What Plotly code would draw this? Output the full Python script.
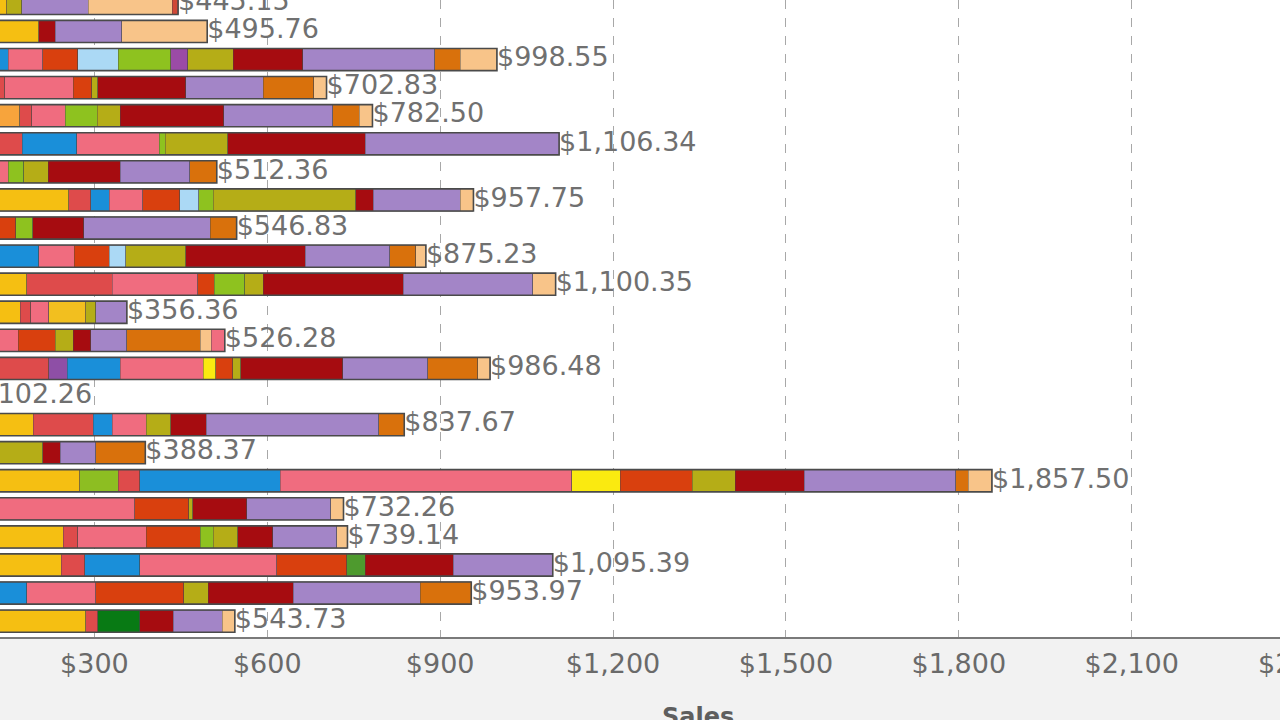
import plotly.graph_objects as go

# one entry per bar, top to bottom
rows = ["C%02d" % (i + 1) for i in range(23)]
totals = [445.15, 495.76, 998.55, 702.83, 782.50, 1106.34, 512.36, 957.75, 546.83, 875.23,
          1100.35, 356.36, 526.28, 986.48, 102.26, 837.67, 388.37, 1857.50, 732.26, 739.14,
          1095.39, 953.97, 543.73]

# stacked segments (sales by product line), same row order
gold = [147.8, 203.5, 0, 0, 0, 0, 0, 255.2, 0, 0, 182.2, 171.6, 0, 0, 102.26, 194.3, 0, 275.0, 0, 246.0, 242.4, 0, 284.9]
tangerine = [0, 0, 0, 0, 170.2, 0, 0, 0, 0, 0, 0, 0, 0, 0, 0, 0, 0, 0, 0, 0, 0, 0, 0]
green1 = [0, 0, 0, 0, 0, 0, 0, 0, 0, 0, 0, 0, 0, 0, 0, 0, 0, 66.0, 0, 0, 0, 0, 0]
red = [0, 0, 0, 144.7, 21.2, 175.2, 0, 38.2, 0, 0, 148.8, 17.7, 0, 221.2, 0, 103.4, 0, 38.1, 0, 24.8, 41.1, 0, 21.3]
violet = [0, 0, 0, 0, 0, 0, 0, 0, 0, 0, 0, 0, 0, 31.9, 0, 0, 0, 0, 0, 0, 0, 0, 0]
blue = [0, 0, 150.4, 0, 0, 94.2, 0, 32.6, 0, 203.5, 0, 0, 0, 92.0, 0, 33.3, 0, 243.0, 0, 0, 94.9, 182.2, 0]
pink = [0, 0, 60.2, 119.0, 58.1, 143.0, 150.4, 58.1, 0, 61.6, 148.7, 31.9, 168.1, 143.8, 0, 58.8, 0, 506.6, 369.9, 119.0, 238.0, 120.4, 0]
amber = [0, 0, 0, 0, 0, 0, 0, 0, 0, 0, 0, 63.7, 0, 0, 0, 0, 0, 0, 0, 0, 0, 0, 0]
yellow = [0, 0, 0, 0, 0, 0, 0, 0, 0, 0, 0, 0, 0, 21.3, 0, 0, 0, 83.4, 0, 0, 0, 0, 0]
orangered = [0, 0, 60.2, 31.9, 0, 0, 0, 63.8, 163.1, 60.9, 28.4, 0, 63.7, 29.7, 0, 0, 0, 124.9, 93.5, 93.5, 121.9, 152.3, 0]
lightblue = [0, 0, 70.8, 0, 0, 0, 0, 33.2, 0, 28.4, 0, 0, 0, 0, 0, 0, 0, 0, 0, 0, 0, 0, 0]
lime = [0, 0, 90.7, 0, 55.3, 10.7, 26.9, 24.8, 29.8, 0, 53.1, 0, 0, 0, 0, 0, 0, 0, 0, 22.6, 0, 0, 0]
violet2 = [0, 0, 29.7, 0, 0, 0, 0, 0, 0, 0, 0, 0, 0, 0, 0, 0, 0, 0, 0, 0, 0, 0, 0]
midgreen = [0, 0, 0, 0, 0, 0, 0, 0, 0, 0, 0, 0, 0, 0, 0, 0, 0, 0, 0, 0, 31.8, 0, 0]
forest = [0, 0, 0, 0, 0, 0, 0, 0, 0, 0, 0, 0, 0, 0, 0, 0, 0, 0, 0, 0, 0, 0, 72.2]
olive = [26.1, 0, 79.3, 10.6, 40.3, 108.3, 42.5, 247.9, 0, 104.1, 31.9, 17.7, 31.9, 14.2, 0, 42.5, 210.6, 74.6, 7.1, 42.5, 0, 42.5, 0]
darkred = [0, 28.3, 120.5, 152.3, 179.3, 238.7, 125.3, 30.5, 88.5, 207.5, 242.9, 0, 29.7, 177.1, 0, 61.6, 30.4, 119.8, 94.2, 61.0, 152.3, 147.4, 58.8]
purple = [115.1, 115.5, 228.7, 134.6, 189.1, 336.24, 120.5, 150.9, 219.6, 146.6, 224.5, 53.76, 62.4, 147.3, 0, 299.6, 61.6, 263.5, 145.2, 111.1, 172.99, 221.0, 85.0]
orange = [0, 0, 44.7, 87.1, 46.0, 0, 46.76, 0, 45.83, 44.7, 0, 0, 127.5, 86.4, 0, 44.17, 85.77, 21.3, 0, 0, 0, 88.17, 0]
peach = [145.7, 148.5, 63.35, 22.6, 23.0, 0, 0, 22.55, 0, 17.93, 39.85, 0, 19.8, 21.58, 0, 0, 0, 41.3, 22.36, 18.64, 0, 0, 21.53]
rose = [0, 0, 0, 0, 0, 0, 0, 0, 0, 0, 0, 0, 23.18, 0, 0, 0, 0, 0, 0, 0, 0, 0, 0]
scarlet = [10.45, 0, 0, 0, 0, 0, 0, 0, 0, 0, 0, 0, 0, 0, 0, 0, 0, 0, 0, 0, 0, 0, 0]

tick_vals = [300, 600, 900, 1200, 1500, 1800, 2100, 2400]

series = [
    (gold, "#F5BF12"), (tangerine, "#F7A43C"), (green1, "#8DBE22"), (red, "#DE4B4B"),
    (violet, "#8E4FA6"), (blue, "#1A8FD9"), (pink, "#F06C7F"), (amber, "#F2BF1F"),
    (yellow, "#FAEA10"), (orangered, "#D9400E"), (lightblue, "#ABD9F5"), (lime, "#8EC21F"),
    (violet2, "#9B4BA6"), (midgreen, "#4E9A2E"), (forest, "#087A14"), (olive, "#B5AD17"),
    (darkred, "#A60C10"), (purple, "#A385C7"), (orange, "#D9710C"), (peach, "#F8C489"),
    (rose, "#F06C7F"), (scarlet, "#D04836"),
]

fig = go.Figure()
for vals, col in series:
    fig.add_trace(go.Bar(
        y=rows, x=[v if v else None for v in vals], orientation="h",
        marker=dict(color=col, line=dict(color="rgba(70,70,70,0.55)", width=0.8)),
        showlegend=False, hoverinfo="skip"))

# value labels at the end of every bar
fig.add_trace(go.Scatter(
    y=rows, x=totals, mode="text", text=["${:,.2f}".format(t) for t in totals],
    textposition="middle right", cliponaxis=True,
    textfont=dict(family="DejaVu Sans", size=27, color="#707070"),
    showlegend=False, hoverinfo="skip"))

# dark outline round each whole bar
for i, t in enumerate(totals):
    fig.add_shape(type="rect", xref="x", yref="y", x0=0, x1=t, y0=i - 0.395, y1=i + 0.395,
                  line=dict(color="#4a4a4a", width=1.6), layer="above")

x_range = [136.2, 2357.3]
fig.update_layout(
    width=1280, height=720, barmode="stack", bargap=0.21,
    margin=dict(l=0, r=0, t=0, b=83),
    paper_bgcolor="#F2F2F2", plot_bgcolor="#FFFFFF",
    font=dict(family="DejaVu Sans", color="#6a6a6a"),
    xaxis=dict(range=x_range, tickvals=tick_vals[:-1],
               ticktext=["${:,}".format(v) for v in tick_vals[:-1]],
               tickfont=dict(size=27, color="#6a6a6a"),
               ticks="outside", ticklen=2, tickcolor="rgba(0,0,0,0)",
               showgrid=True, gridcolor="#a8a8a8", griddash="dash", gridwidth=1,
               showline=True, linecolor="#7a7a7a", linewidth=2, zeroline=False),
    yaxis=dict(type="category", range=[22.564, -0.12], showticklabels=False,
               showgrid=False, zeroline=False, showline=False),
)

# the last tick label only shows its first characters at the right edge
last = tick_vals[-1]
fig.add_annotation(xref="paper", yref="paper",
                   x=(last - x_range[0]) / (x_range[1] - x_range[0]), y=0, yshift=-26,
                   text="${:,}".format(last), showarrow=False, xanchor="center", yanchor="middle",
                   font=dict(family="DejaVu Sans", size=27, color="#6a6a6a"))

fig.add_annotation(xref="paper", yref="paper", x=0.545, y=0, yshift=-64,
                   text="<b>Sales</b>", showarrow=False, xanchor="center", yanchor="top",
                   font=dict(family="DejaVu Sans", size=24, color="#5e5e5e"))

# drop the browser's default page margin so the figure sits at the corner
fig.write_html("out.html", config={"displayModeBar": False},
               post_script="document.body.style.margin='0';")
